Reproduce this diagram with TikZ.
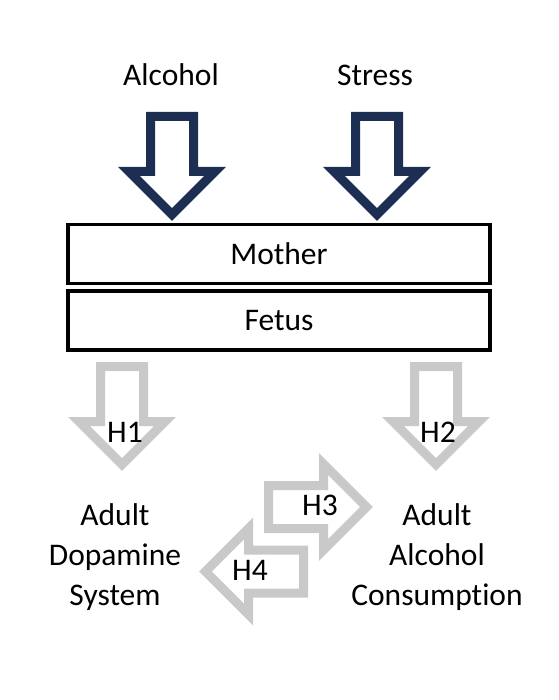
\documentclass[tikz,border=0pt]{standalone}
\usepackage{fontspec}
\setmainfont{Carlito}[Ligatures=CommonOff]
\usetikzlibrary{calc}
\definecolor{navyarrow}{RGB}{28,46,82}
\definecolor{greyarrow}{RGB}{201,201,201}
\tikzset{
  box/.style={draw, line width=3.5, minimum width=422, minimum height=59, inner sep=0pt},
  label/.style={font=\fontsize{31.5}{40}\selectfont, align=center, inner sep=0pt},
  darkarrow/.style={draw=navyarrow, line width=9, fill=white},
  lightarrow/.style={draw=greyarrow, line width=9, fill=white}}
% block arrow: #1 style, #2 top centre of the shaft, #3 rotation
\newcommand{\blockarrow}[3]{%
  \draw[#1, shift={#2}, rotate=#3] (-21.5,4.5) -- (21.5,4.5) -- (21.5,59.5) -- (43.1,59.5)
    -- (0,102.6) -- (-43.1,59.5) -- (-21.5,59.5) -- cycle;}

\begin{document}
\begin{tikzpicture}[x=1pt, y=-1pt]
\useasboundingbox (0,0) rectangle (558,700);
\node[label] (alcohol) at (171,75) {Alcohol};
\node[label] (stress) at (375,75) {Stress};
\blockarrow{darkarrow}{(172,112)}{0}
\blockarrow{darkarrow}{(377,112)}{0}
\node[box] (mother) at (279,254) {\fontsize{31.5}{40}\selectfont Mother};
\node[box] (fetus) at (279,320.5) {\fontsize{31.5}{40}\selectfont Fetus};
\blockarrow{lightarrow}{(122,362)}{0}
\blockarrow{lightarrow}{(436,362)}{0}
\blockarrow{lightarrow}{(264,507)}{90}
\blockarrow{lightarrow}{(308,571.5)}{-90}
\node[label] (h1) at (125,432) {H1};
\node[label] (h2) at (438,432) {H2};
\node[label] (h3) at (320,505) {H3};
\node[label] (h4) at (250,570) {H4};
\node[label] (dopamine) at (115,557) {Adult\\Dopamine\\System};
\node[label] (consumption) at (437,557) {Adult\\Alcohol\\Consumption};
\end{tikzpicture}
\end{document}
